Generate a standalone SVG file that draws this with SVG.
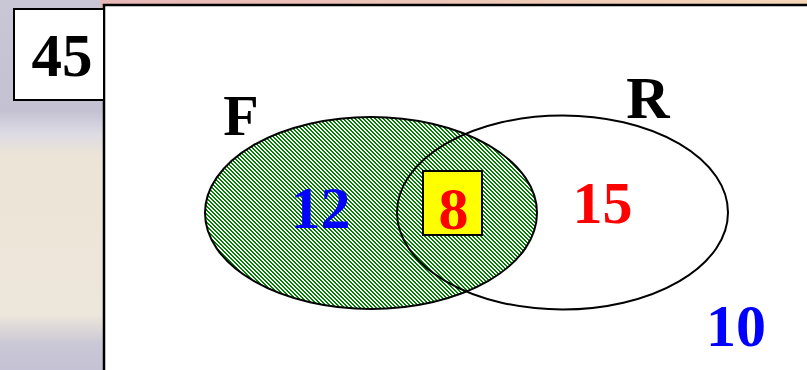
<svg xmlns="http://www.w3.org/2000/svg" width="807" height="370" viewBox="0 0 807 370">
<defs>
<linearGradient id="bg" x1="0" y1="0" x2="0" y2="1">
<stop offset="0" stop-color="#c9c6d6"/>
<stop offset="0.3" stop-color="#c4c2d2"/>
<stop offset="0.36" stop-color="#dcdbe4"/>
<stop offset="0.42" stop-color="#ece4d6"/>
<stop offset="0.85" stop-color="#ede6da"/>
<stop offset="0.93" stop-color="#cac8d6"/>
<stop offset="1" stop-color="#c4c2d4"/>
</linearGradient>
<linearGradient id="top" x1="0" y1="0" x2="1" y2="0">
<stop offset="0" stop-color="#e8b8b8"/>
<stop offset="1" stop-color="#f5d7b8"/>
</linearGradient>
<pattern id="hatch" width="4" height="4" patternUnits="userSpaceOnUse">
<g shape-rendering="crispEdges">
<rect width="4" height="4" fill="#ffffff"/>
<rect x="0" y="0" width="2" height="1" fill="#008000"/>
<rect x="1" y="1" width="2" height="1" fill="#008000"/>
<rect x="2" y="2" width="2" height="1" fill="#008000"/>
<rect x="3" y="3" width="1" height="1" fill="#008000"/>
<rect x="0" y="3" width="1" height="1" fill="#008000"/>
</g>
</pattern>
</defs>
<style>
.lbl{font-family:"Liberation Serif",serif;font-weight:bold;text-anchor:middle;}
</style>
<rect x="0" y="0" width="807" height="370" fill="url(#bg)"/>
<rect x="100" y="0" width="707" height="8" fill="url(#top)"/>
<rect x="104" y="5" width="705" height="370" fill="#ffffff" stroke="#000" stroke-width="2.5"/>
<g id="num45">
<rect x="14" y="9" width="90" height="91" fill="#ffffff" stroke="#000" stroke-width="2"/>
<text x="62" y="76" class="lbl" font-size="61" fill="#000">45</text>
</g>
<g id="setF">
<ellipse cx="371" cy="213" rx="166" ry="96" fill="url(#hatch)" stroke="#000" stroke-width="2"/>
<text x="241" y="135" class="lbl" font-size="58" fill="#000">F</text>
</g>
<g id="setR">
<ellipse cx="562.5" cy="212.5" rx="165.5" ry="97" fill="none" stroke="#000" stroke-width="2"/>
<text x="648" y="118" class="lbl" font-size="60" fill="#000">R</text>
</g>
<g id="onlyF">
<text x="320.5" y="228" class="lbl" font-size="60" fill="#0000ff">12</text>
</g>
<g id="both">
<rect x="423" y="171" width="59" height="64" fill="#ffff00" stroke="#000" stroke-width="2"/>
<text x="453.5" y="229" class="lbl" font-size="60" fill="#ff0000">8</text>
</g>
<g id="onlyR">
<text x="602.5" y="223" class="lbl" font-size="60" fill="#ff0000">15</text>
</g>
<g id="neither">
<text x="736" y="346" class="lbl" font-size="60" fill="#0000ff">10</text>
</g>
<g id="connectors"/>
</svg>
